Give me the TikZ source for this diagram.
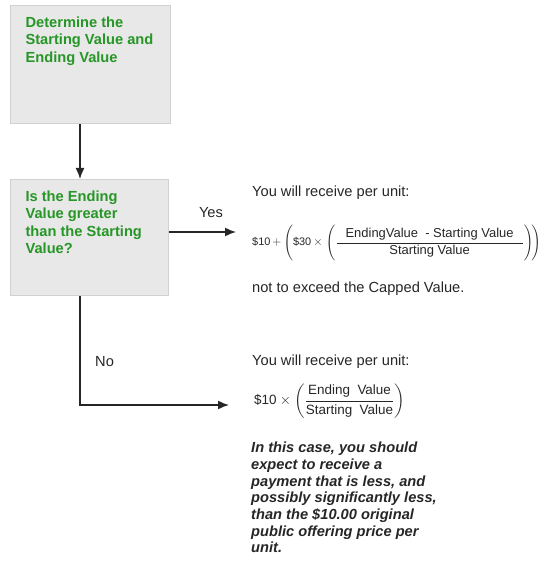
\documentclass[tikz,border=0pt]{standalone}
\usepackage{amsmath}
\usepackage{fontspec}
\setmainfont{Liberation Sans}
\usetikzlibrary{arrows.meta}
\definecolor{stepgreen}{RGB}{38,150,38}
\newcommand{\smallamount}[1]{\text{\fontsize{11}{13}\selectfont\$#1}}

\begin{document}
\begin{tikzpicture}[x=1bp, y=-1bp,
    stepbox/.style={draw=black!18, line width=1.2bp, fill=black!9, anchor=north west,
        inner xsep=15bp, inner ysep=11.5bp, text=stepgreen,
        font=\bfseries\fontsize{14.7}{17.3}\selectfont},
    plain/.style={anchor=west, inner sep=0pt, text=black!85,
        font=\fontsize{14.7}{17.3}\selectfont},
    flow/.style={-{Latex[length=11bp, width=9bp]}, line width=1.5bp, black!85}]
    \useasboundingbox (0, 0) rectangle (550, 561);

    % the two steps
    \node[stepbox] (determine) at (10, 5)
        {\parbox[t][95bp][t]{130bp}{\raggedright Determine the\\Starting Value and\\Ending Value}};
    \node[stepbox] (test) at (10, 179)
        {\parbox[t][93bp][t]{128bp}{\raggedright Is the Ending\\Value greater\\than the Starting\\Value?}};

    \draw[flow] ([xshift=70bp]determine.south west) -- ([xshift=70bp]test.north west);

    % yes branch
    \coordinate (yesend) at (236, 232);
    \draw[flow] (test.east |- yesend) -- (yesend);
    \node[plain, anchor=center] (yeslabel) at (211, 213) {Yes};

    \node[plain] (yesintro) at (252, 193) {You will receive per unit:};
    \node[plain, font=\fontsize{13}{15}\selectfont] (yesformula) at (252, 243)
        {$\smallamount{10}\,{+}\,\Biggl(\smallamount{30}\,{\times}\;\Biggl(
          \dfrac{\hspace{9bp}\text{EndingValue\ \ - Starting Value}\hspace{9bp}}{\text{Starting Value}}\Biggr)\!\Biggr)$};
    \node[plain] (yescap) at (252, 289) {not to exceed the Capped Value.};

    % no branch
    \coordinate (noend) at (229, 405);
    \draw[flow] ([xshift=70bp]test.south west) |- (noend);
    \node[plain] (nolabel) at (95, 362) {No};

    \node[plain] (nointro) at (252, 362) {You will receive per unit:};
    \node[plain, font=\fontsize{13.5}{16}\selectfont] (noformula) at (254, 401)
        {$\text{\$10}\times\left(\dfrac{\text{Ending\ \ Value}}{\text{Starting\ \ Value}}\right)$};
    \node[plain, anchor=north west, align=left,
        font=\bfseries\itshape\fontsize{14.7}{16.7}\selectfont] (nonote) at (251, 442)
        {In this case, you should\\expect to receive a\\payment that is less, and\\possibly significantly less,\\than the \$10.00 original\\public offering price per\\unit.};
\end{tikzpicture}
\end{document}
